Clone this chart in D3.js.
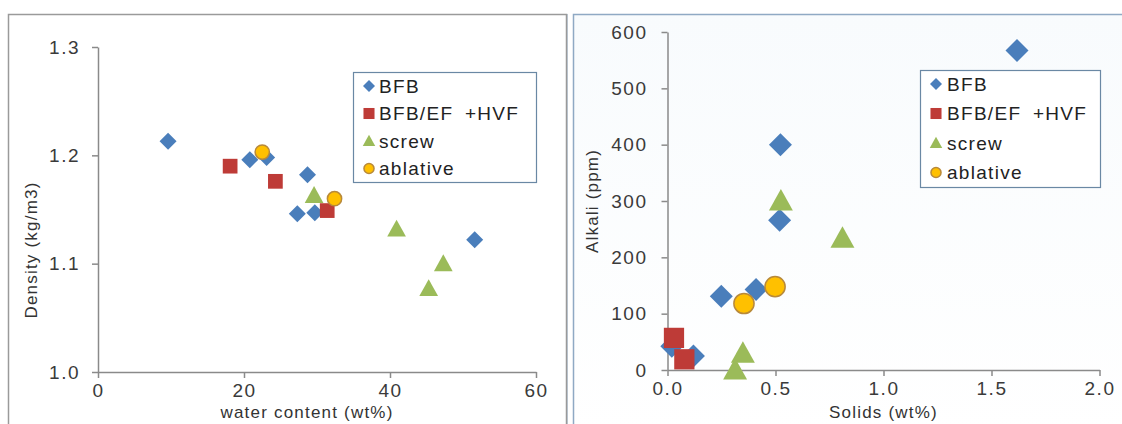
<!DOCTYPE html>
<html><head><meta charset="utf-8">
<script src="https://cdn.jsdelivr.net/npm/d3@7"></script>
<style>
html,body{margin:0;padding:0;background:#fff;}
svg{display:block;}
text{font-family:"Liberation Sans",Arial,sans-serif;}
</style></head>
<body>
<svg id="c" width="1122" height="424"></svg>
<script>
// ---- data ----
const seriesNames = ["BFB", "BFB/EF +HVF", "screw", "ablative"];

// Left panel: water content (wt%) vs density (kg/m3)
const leftBFB     = [[9.6,1.213],[20.8,1.196],[23.1,1.198],[28.7,1.182],[27.3,1.146],[29.7,1.147],[51.6,1.122]];
const leftHVF     = [[18.1,1.190],[24.3,1.176],[31.4,1.149]];
const leftScrew   = [[29.6,1.163],[40.9,1.132],[47.3,1.100],[45.3,1.077]];
const leftAblative= [[22.5,1.203],[32.4,1.160]];
const leftXTicks = [0,20,40,60];
const leftYTicks = [1.0,1.1,1.2,1.3];

// Right panel: solids (wt%) vs alkali (ppm)
const rightBFB     = [[1.618,567],[0.523,400],[0.519,266],[0.249,131],[0.41,143],[0.12,25],[0.02,42]];
const rightHVF     = [[0.03,57],[0.078,19]];
const rightScrew   = [[0.525,300],[0.81,234],[0.349,30],[0.313,0]];
const rightAblative= [[0.354,118],[0.498,148]];
const rightXTicks = [0.0,0.5,1.0,1.5,2.0];
const rightYTicks = [0,100,200,300,400,500,600];

// ---- styles ----
const colors = {diamond:"#4A7EBB", square:"#BE3B37", triangle:"#9BBB59", circle:"#FFC000"};
const shapes = ["diamond","square","triangle","circle"];

const svg = d3.select("#c");

// panel frames
svg.append("rect").attr("x",8.5).attr("y",14.5).attr("width",558).attr("height",420)
  .attr("fill","#fff").attr("stroke","#9a9a9a").attr("stroke-width",1.5);
const grad = svg.append("defs").append("linearGradient").attr("id","bg").attr("x1",0).attr("y1",0).attr("x2",0).attr("y2",1);
grad.append("stop").attr("offset","0").attr("stop-color","#f8fbfd");
grad.append("stop").attr("offset","1").attr("stop-color","#ffffff");
svg.append("rect").attr("x",573.5).attr("y",14.5).attr("width",560).attr("height",420)
  .attr("fill","url(#bg)").attr("stroke","#8fa9c4").attr("stroke-width",1.5);
svg.append("line").attr("x1",567.5).attr("x2",567.5).attr("y1",14).attr("y2",424).attr("stroke","#b8c2cc").attr("stroke-width",1);

function drawMarker(g, shape, cx, cy, s){
  const c = colors[shape];
  if(shape==="diamond"){
    const h=s/2;
    g.append("path").attr("d",`M${cx},${cy-h}L${cx+h},${cy}L${cx},${cy+h}L${cx-h},${cy}Z`).attr("fill",c);
  } else if(shape==="square"){
    const h=s*0.46;
    g.append("rect").attr("x",cx-h).attr("y",cy-h).attr("width",2*h).attr("height",2*h).attr("fill",c);
  } else if(shape==="triangle"){
    const h=s*0.52;
    g.append("path").attr("d",`M${cx},${cy-h}L${cx+h},${cy+h*0.8}L${cx-h},${cy+h*0.8}Z`).attr("fill",c);
  } else {
    g.append("circle").attr("cx",cx).attr("cy",cy).attr("r",s*0.42).attr("fill",c)
      .attr("stroke","#B8893A").attr("stroke-width",1.5);
  }
}

function panel(opts){
  const x = d3.scaleLinear().domain(opts.xd).range(opts.xr);
  const y = d3.scaleLinear().domain(opts.yd).range(opts.yr);
  const g = svg.append("g");
  const axColor="#8a8a8a";
  const xa = g.append("g").attr("transform",`translate(0,${opts.yr[0]})`)
    .call(d3.axisBottom(x).tickValues(opts.xt).tickFormat(opts.xf).tickSize(6).tickSizeOuter(0).tickPadding(6));
  const ya = g.append("g").attr("transform",`translate(${opts.xr[0]},0)`)
    .call(d3.axisLeft(y).tickValues(opts.yt).tickFormat(opts.yf).tickSize(6).tickSizeOuter(0).tickPadding(opts.ypad));
  [xa,ya].forEach(a=>{
    a.selectAll("path,line").attr("stroke",axColor).attr("stroke-width",1.5);
    a.selectAll("text").attr("fill","#3a3a3a").style("font-size","19px").style("letter-spacing","1.5px");
  });
  // titles
  g.append("text").attr("x",(opts.xr[0]+opts.xr[1])/2 + opts.xtOff).attr("y",418)
    .attr("text-anchor","middle").attr("fill","#333").style("font-size","17px").style("letter-spacing","1.2px").text(opts.xTitle);
  g.append("text").attr("transform",`translate(${opts.ytX},${opts.ytY}) rotate(-90)`).attr("dy","0.35em")
    .attr("text-anchor","middle").attr("fill","#333").style("font-size","17px").style("letter-spacing","1.2px").text(opts.yTitle);
  // points
  const pg = g.append("g");
  opts.series.forEach((data,i)=>{
    data.forEach(d=>drawMarker(pg, shapes[i], x(d[0]), y(d[1]), opts.ms[i]));
  });
  // legend
  const L = opts.legend;
  g.append("rect").attr("x",L.x+0.5).attr("y",L.y+0.5).attr("width",L.w).attr("height",L.h)
    .attr("fill","#fff").attr("stroke","#6a88a4").attr("stroke-width",1.2);
  seriesNames.forEach((n,i)=>{
    const cy = L.y + L.first + i*L.step;
    drawMarker(g, shapes[i], L.x+L.mx, cy, 12);
    g.append("text").attr("x",L.x+L.tx).attr("y",cy).attr("dy","0.36em").attr("fill","#222")
      .style("font-size","19px").style("letter-spacing","1.3px").style("word-spacing","5px").text(n);
  });
}

panel({
  xd:[0,60], xr:[98,536], yd:[1.0,1.3], yr:[372,47],
  xt:leftXTicks, yt:leftYTicks, xf:d3.format("d"), yf:d3.format(".1f"), ypad:12,
  xTitle:"water content (wt%)", yTitle:"Density (kg/m3)", xtOff:-10, ytX:31, ytY:250,
  series:[leftBFB,leftHVF,leftScrew,leftAblative], ms:[17,16,18,17],
  legend:{x:353,y:72,w:183,h:110,first:14,step:27.5,mx:16,tx:26}
});
panel({
  xd:[0,2], xr:[667.5,1099.5], yd:[0,600], yr:[370,32],
  xt:rightXTicks, yt:rightYTicks, xf:d3.format(".1f"), yf:d3.format("d"), ypad:14,
  xTitle:"Solids (wt%)", yTitle:"Alkali (ppm)", xtOff:0, ytX:592, ytY:201,
  series:[rightBFB,rightHVF,rightScrew,rightAblative], ms:[23,22,23,24],
  legend:{x:920,y:70,w:180,h:117,first:14,step:29.5,mx:16,tx:27}
});
</script>
</body></html>
